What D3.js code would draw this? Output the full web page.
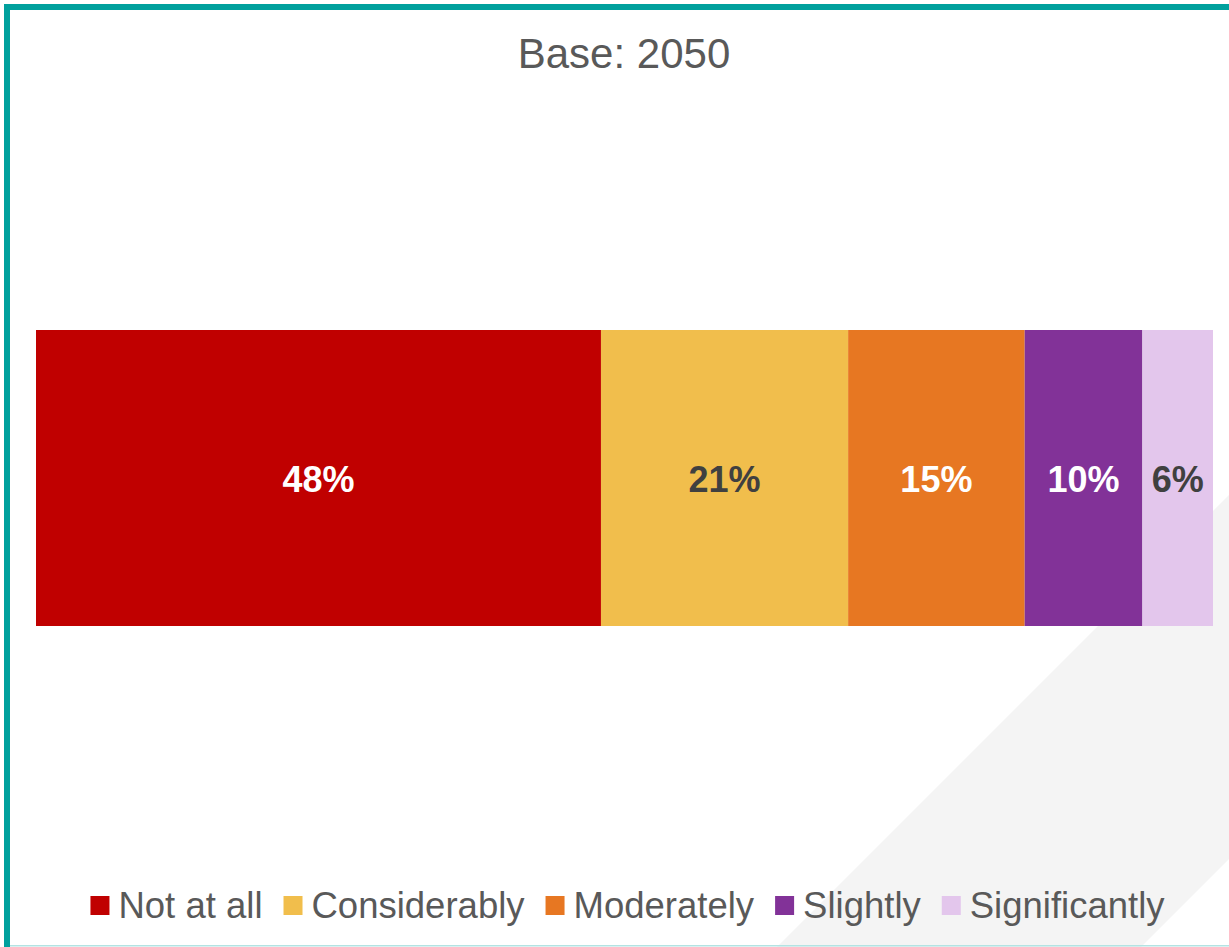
<!DOCTYPE html>
<html>
<head>
<meta charset="utf-8">
<script src="https://cdn.jsdelivr.net/npm/d3@7"></script>
<style>
    html, body { margin: 0; padding: 0; background: #fff; }
    svg { display: block; font-family: "Liberation Sans", Arial, sans-serif; }
</style>
</head>
<body>
<div id="chart"></div>
<script>
var categories = ["Not at all", "Considerably", "Moderately", "Slightly", "Significantly"];
var values = [48, 21, 15, 10, 6];
var colors = ["#c00000", "#f1be4c", "#e77722", "#823298", "#e3c6ec"];
var labelColors = ["#ffffff", "#404040", "#ffffff", "#ffffff", "#404040"];
var title = "Base: 2050";

(function () {
    var width = 1229, height = 947;
    var svg = d3.select("#chart").append("svg")
        .attr("width", width)
        .attr("height", height);

    // grey diagonal band in the bottom right corner
    svg.append("polygon")
        .attr("points", [[777, 947], [1229, 495], [1229, 859], [1141, 947]].join(" "))
        .attr("fill", "#f4f4f4");

    // frame
    svg.append("rect").attr("x", 4).attr("y", 4).attr("width", width - 4).attr("height", 6).attr("fill", "#00a09d");
    svg.append("rect").attr("x", 4).attr("y", 4).attr("width", 6).attr("height", height - 4).attr("fill", "#00a09d");
    svg.append("rect").attr("x", 10).attr("y", 945).attr("width", width - 10).attr("height", 1.5).attr("fill", "#b3e3e3");

    svg.append("text")
        .attr("x", 624)
        .attr("y", 68)
        .attr("text-anchor", "middle")
        .attr("font-size", 42)
        .attr("fill", "#595959")
        .text(title);

    var x = d3.scaleLinear().domain([0, d3.sum(values)]).range([36, 1213]);
    var y = d3.scaleBand().domain(["row"]).range([330, 626]);

    var starts = [];
    values.reduce(function (acc, v, i) { starts[i] = acc; return acc + v; }, 0);

    var seg = svg.selectAll(".seg")
        .data(values)
        .enter().append("g")
        .attr("class", "seg");

    seg.append("rect")
        .attr("x", function (d, i) { return x(starts[i]); })
        .attr("y", y("row"))
        .attr("width", function (d, i) { return x(starts[i] + d) - x(starts[i]); })
        .attr("height", y.bandwidth())
        .attr("fill", function (d, i) { return colors[i]; });

    seg.append("text")
        .attr("x", function (d, i) { return (x(starts[i]) + x(starts[i] + d)) / 2; })
        .attr("y", y("row") + y.bandwidth() / 2 + 14)
        .attr("text-anchor", "middle")
        .attr("font-size", 36)
        .attr("font-weight", "bold")
        .attr("fill", function (d, i) { return labelColors[i]; })
        .text(function (d) { return d + "%"; });

    // legend
    var legend = svg.append("g");
    var box = 19, gapText = 9, gapItem = 21;
    var cx = 0;
    categories.forEach(function (c, i) {
        var item = legend.append("g").attr("transform", "translate(" + cx + ",0)");
        item.append("rect")
            .attr("x", 0).attr("y", 896)
            .attr("width", box).attr("height", box)
            .attr("fill", colors[i]);
        var t = item.append("text")
            .attr("x", box + gapText)
            .attr("y", 918)
            .attr("font-size", 36.5)
            .attr("fill", "#595959")
            .text(c);
        cx += box + gapText + t.node().getComputedTextLength() + gapItem;
    });
    var total = cx - gapItem;
    legend.attr("transform", "translate(" + (627.5 - total / 2) + ",0)");
})();
</script>
</body>
</html>
